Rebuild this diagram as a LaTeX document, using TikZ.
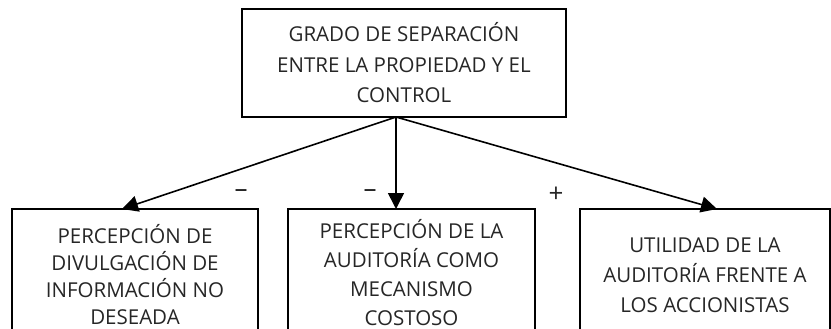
\documentclass[tikz,border=0pt]{standalone}
\usepackage{fontspec}
\setmainfont{Open Sans}
\usetikzlibrary{arrows.meta}
\begin{document}
\begin{tikzpicture}[x=1pt,y=-1pt,
  box/.style={draw=black,line width=1.6pt,align=center,inner sep=0pt,text=black!85},
  conn/.style={line width=1.6pt,-{Triangle[length=16pt,width=16pt]}},
  sign/.style={inner sep=0pt,text=black!85,font=\fontsize{26}{28}\selectfont}]
\useasboundingbox (0,0) rectangle (831,329);
\clip (0,0) rectangle (831,329);
\node[box,minimum width=324pt,minimum height=108pt,font=\fontsize{20.5}{30.5}\selectfont] (top) at (404,63)
  {GRADO DE SEPARACIÓN\\ENTRE LA PROPIEDAD Y EL\\CONTROL};
\node[box,minimum width=246pt,minimum height=131pt,font=\fontsize{20.5}{27}\selectfont] (b1) at (135,274.5)
  {PERCEPCIÓN DE\\DIVULGACIÓN DE\\INFORMACIÓN NO\\DESEADA};
\node[box,minimum width=247pt,minimum height=128pt,font=\fontsize{20.5}{29}\selectfont] (b2) at (411.5,273)
  {PERCEPCIÓN DE LA\\AUDITORÍA COMO\\MECANISMO\\COSTOSO};
\node[box,minimum width=250pt,minimum height=132pt,font=\fontsize{20.5}{30}\selectfont] (b3) at (705,275)
  {UTILIDAD DE LA\\AUDITORÍA FRENTE A\\LOS ACCIONISTAS};
\coordinate (o) at (396,117);
\coordinate (e1) at (122,209);
\coordinate (e2) at (396,209);
\coordinate (e3) at (717,209);
\draw[conn] (o) -- (e1);
\draw[conn] (o) -- (e2);
\draw[conn] (o) -- (e3);
\node[sign] (s1) at (241,194) {–};
\node[sign] (s2) at (370,194) {–};
\node[sign] (s3) at (556,195) {+};
\end{tikzpicture}
\end{document}
